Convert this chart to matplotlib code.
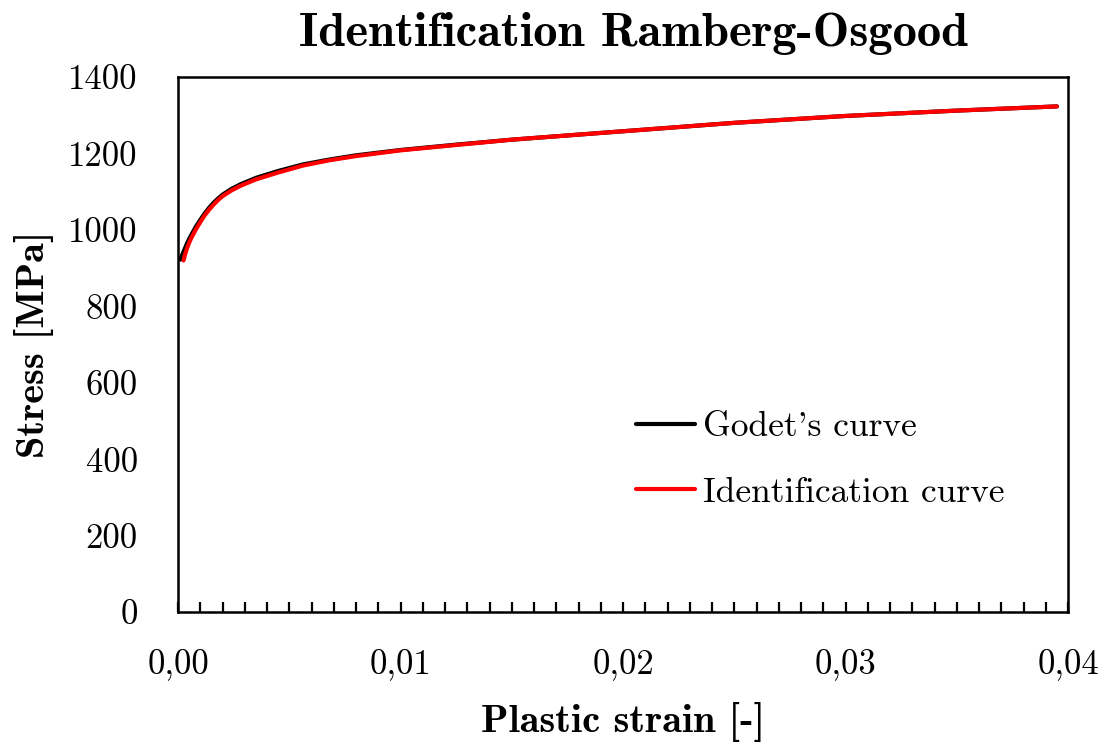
import matplotlib
matplotlib.use("Agg")
import matplotlib.pyplot as plt
from matplotlib.ticker import MultipleLocator, FuncFormatter

# Godet's curve (black)
strain_godet = [0.0001, 0.0002, 0.0003, 0.0004, 0.0005, 0.0006, 0.0008, 0.001, 0.0012,
                0.0014, 0.0016, 0.0018, 0.002, 0.0024, 0.0028, 0.0035, 0.0045, 0.0056,
                0.0068, 0.008, 0.01, 0.0125, 0.015, 0.0175, 0.02, 0.025, 0.03, 0.035, 0.0395]
stress_godet = [922, 936, 950, 964, 976, 987, 1008, 1026, 1043,
                1058, 1071, 1082, 1092, 1107, 1119, 1136, 1154, 1171,
                1184, 1195, 1209, 1223, 1236, 1247, 1258, 1280, 1298, 1312, 1323]

# Identification curve (red)
strain_ident = [0.00025, 0.0003, 0.0004, 0.0005, 0.0006, 0.0008, 0.001, 0.0012,
                0.0014, 0.0016, 0.0018, 0.002, 0.0024, 0.0028, 0.0035, 0.0045, 0.0056,
                0.0068, 0.008, 0.01, 0.0125, 0.015, 0.0175, 0.02, 0.025, 0.03, 0.035, 0.0395]
stress_ident = [920, 932, 951, 966, 979, 1001, 1020, 1038,
                1053, 1066, 1078, 1088, 1103, 1115, 1132, 1150, 1168,
                1182, 1193, 1208, 1222, 1236, 1247, 1258, 1280, 1298, 1312, 1323]

plt.rcParams['font.family'] = ['cmr10', 'DejaVu Serif']
plt.rcParams['axes.unicode_minus'] = False

fig = plt.figure(figsize=(11.07, 7.51), dpi=100)
ax = fig.add_axes([0.1608, 0.185, 0.8040, 0.7125])

ax.plot(strain_godet, stress_godet, color='black', lw=3, label="Godet's curve",
        solid_capstyle='round')
ax.plot(strain_ident, stress_ident, color='red', lw=3, label='Identification curve',
        solid_capstyle='round')

ax.set_xlim(0, 0.04)
ax.set_ylim(0, 1400)
ax.xaxis.set_major_locator(MultipleLocator(0.01))
ax.xaxis.set_minor_locator(MultipleLocator(0.001))
ax.yaxis.set_major_locator(MultipleLocator(200))
ax.xaxis.set_major_formatter(FuncFormatter(lambda v, p: f"{v:.2f}".replace('.', ',')))

ax.tick_params(axis='x', which='both', direction='in', length=7, width=1.6,
               labelsize=25, pad=26, top=False)
ax.tick_params(axis='y', which='both', length=0, labelsize=25, pad=29)
for s in ax.spines.values():
    s.set_linewidth(1.8)

bold = {'family': 'cmb10', 'size': 29}
ax.set_xlabel('Plastic strain [-]', fontdict=bold, labelpad=16)
ax.set_ylabel('Stress [MPa]', fontdict=bold, labelpad=10)
ax.set_title('Identification Ramberg-Osgood', fontdict={'family': 'cmb10', 'size': 35},
             pad=22, x=0.512)

ax.legend(loc='center left', bbox_to_anchor=(0.515, 0.284), frameon=False,
          fontsize=25.5, handlelength=1.65, handletextpad=0.22, labelspacing=0.95,
          borderpad=0, borderaxespad=0)

fig.savefig('out.png', dpi=100)
